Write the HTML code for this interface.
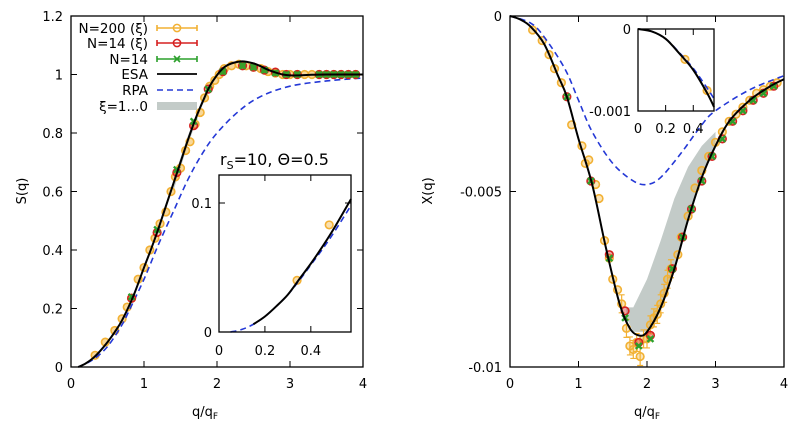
<!DOCTYPE html>
<html><head><meta charset="utf-8"><style>
body{margin:0;background:#fff}
svg{font-family:"DejaVu Sans","Liberation Sans",sans-serif;}
</style></head><body>
<svg id="c" width="810" height="433" viewBox="0 0 810 433"></svg>
<script>
// ---------- Left: S(q) ----------
const sEsaQ=[0.1,0.2,0.3,0.4,0.5,0.6,0.7,0.85,1.0,1.1,1.2,1.3,1.4,1.5,1.6,1.7,1.8,1.9,2.0,2.1,2.2,2.35,2.5,2.6,2.7,2.8,2.9,3.0,3.1,3.3,3.5,4.0];
const sEsaV=[0,0.012,0.03,0.055,0.085,0.12,0.16,0.24,0.34,0.405,0.475,0.55,0.625,0.7,0.775,0.845,0.905,0.96,0.998,1.025,1.038,1.045,1.038,1.028,1.016,1.007,1.0,0.997,0.997,0.999,1.0,1.0];
const sRpaQ=[0.1,0.3,0.5,0.7,0.8,1.0,1.2,1.4,1.6,1.8,2.0,2.3,2.6,3.0,3.5,4.0];
const sRpaV=[0,0.025,0.07,0.145,0.195,0.3,0.42,0.53,0.64,0.73,0.8,0.875,0.925,0.96,0.978,0.988];
const sN200Q=[0.33,0.47,0.6,0.7,0.77,0.83,0.92,1.0,1.08,1.15,1.22,1.3,1.37,1.43,1.5,1.57,1.63,1.7,1.77,1.83,1.9,1.97,2.03,2.1,2.2,2.3,2.4,2.5,2.6,2.7,2.8,2.9,3.0,3.1,3.2,3.3,3.4,3.5,3.6,3.7,3.8,3.9];
const sN200V=[0.04,0.085,0.125,0.165,0.205,0.235,0.3,0.34,0.4,0.44,0.49,0.53,0.6,0.65,0.68,0.74,0.77,0.83,0.87,0.92,0.96,0.98,1.0,1.02,1.03,1.035,1.03,1.025,1.02,1.01,1.005,1.0,1.0,1.0,1.0,1.0,1.0,1.0,1.0,1.0,1.0,1.0];
const sN14Q=[0.83,1.18,1.45,1.68,1.88,2.08,2.35,2.5,2.65,2.8,2.95,3.1,3.4,3.5,3.6,3.7,3.8,3.9];
const sN14xiV=[0.235,0.46,0.665,0.825,0.95,1.01,1.03,1.025,1.015,1.008,1.0,1.0,1.0,1.0,1.0,1.0,1.0,1.0];
const sN14V=[0.24,0.47,0.675,0.84,0.95,1.01,1.03,1.025,1.015,1.005,1.0,1.0,1.0,1.0,1.0,1.0,1.0,1.0];
const sInQ=[0.05,0.1,0.15,0.2,0.25,0.3,0.35,0.4,0.45,0.5,0.575];
const sInV=[0,0.002,0.006,0.012,0.02,0.029,0.041,0.053,0.066,0.08,0.103];
const sInRpaV=[0,0.002,0.006,0.012,0.02,0.029,0.04,0.052,0.064,0.077,0.098];
const sInPtQ=[0.34,0.48];
const sInPtV=[0.04,0.083];
// ---------- Right: X(q) ----------
const xEsaQ=[0,0.15,0.3,0.5,0.7,0.83,1.0,1.2,1.4,1.6,1.75,1.88,2.0,2.2,2.4,2.6,2.8,3.0,3.2,3.5,3.8,4.0];
const xEsaV=[0,-0.0001,-0.0003,-0.0008,-0.0017,-0.0023,-0.0035,-0.0048,-0.0066,-0.0082,-0.0089,-0.0091,-0.009,-0.0083,-0.0072,-0.0058,-0.0046,-0.0037,-0.003,-0.0024,-0.002,-0.0018];
const xRpaQ=[0,0.3,0.5,0.8,1.0,1.2,1.5,1.8,2.0,2.2,2.5,2.8,3.0,3.5,4.0];
const xRpaV=[0,-0.0002,-0.0006,-0.0015,-0.0024,-0.0033,-0.0042,-0.0047,-0.0048,-0.0046,-0.0039,-0.0031,-0.0027,-0.0021,-0.0017];
const xBandQ=[1.7,1.8,2.0,2.2,2.4,2.6,2.8,3.0];
const xBandUp=[-0.0083,-0.0083,-0.0075,-0.0064,-0.0052,-0.0043,-0.0037,-0.0033];
const xBandLo=[-0.0086,-0.009,-0.009,-0.0083,-0.0072,-0.0058,-0.0046,-0.0037];
const xN200Q=[0.33,0.47,0.57,0.65,0.75,0.9,1.05,1.1,1.15,1.25,1.3,1.38,1.45,1.5,1.57,1.63,1.7,1.75,1.8,1.85,1.9,1.95,2.0,2.05,2.1,2.15,2.2,2.25,2.3,2.35,2.45,2.5,2.6,2.7,2.8,2.9,3.0,3.1,3.2,3.3,3.4,3.5,3.6,3.7,3.8,3.9];
const xN200V=[-0.0004,-0.0007,-0.0011,-0.0015,-0.0019,-0.0031,-0.0037,-0.0042,-0.0041,-0.0048,-0.0052,-0.0064,-0.0069,-0.0075,-0.0078,-0.0082,-0.0089,-0.0094,-0.0095,-0.0093,-0.0097,-0.0092,-0.0092,-0.0088,-0.0086,-0.0085,-0.0082,-0.0079,-0.0075,-0.0072,-0.0068,-0.0063,-0.0057,-0.0049,-0.0044,-0.004,-0.0036,-0.0033,-0.003,-0.0028,-0.0026,-0.0024,-0.0022,-0.0021,-0.002,-0.0019];
const xN14Q=[0.83,1.18,1.45,1.68,1.88,2.05,2.37,2.52,2.65,2.8,2.95,3.1,3.25,3.4,3.55,3.7,3.85];
const xN14xiV=[-0.0023,-0.0047,-0.0068,-0.0084,-0.0093,-0.0091,-0.0072,-0.0063,-0.0055,-0.0047,-0.004,-0.0035,-0.003,-0.0027,-0.0024,-0.0022,-0.002];
const xN14V=[-0.0023,-0.0047,-0.0069,-0.0086,-0.0094,-0.0092,-0.0072,-0.0063,-0.0055,-0.0047,-0.004,-0.0035,-0.003,-0.0027,-0.0024,-0.0022,-0.002];
const xInQ=[0,0.1,0.2,0.3,0.4,0.5,0.55];
const xInV=[0,-0.00003,-0.00012,-0.0003,-0.0005,-0.00078,-0.00095];
const xInRpaV=[0,-0.00003,-0.00012,-0.00029,-0.00048,-0.00072,-0.00085];
const xInPtQ=[0.34,0.5];
const xInPtV=[-0.00037,-0.00075];

const svg=document.getElementById('c');
const NS='http://www.w3.org/2000/svg';
function el(t,a,p){const e=document.createElementNS(NS,t);for(const k in a)e.setAttribute(k,a[k]);(p||svg).appendChild(e);return e;}
function txt(x,y,s,anchor,size,name,p){const e=el('text',{x:x,y:y,'text-anchor':anchor,'font-size':size||13,fill:'#000'},p);e.textContent=s;


return e;}
function scale(d0,d1,r0,r1){return v=>r0+(v-d0)/(d1-d0)*(r1-r0);}
function smooth(pts){let d='M'+pts[0][0]+','+pts[0][1];for(let i=0;i<pts.length-1;i++){const p0=pts[i-1]||pts[i],p1=pts[i],p2=pts[i+1],p3=pts[i+2]||p2;
d+=' C'+(p1[0]+(p2[0]-p0[0])/6)+','+(p1[1]+(p2[1]-p0[1])/6)+' '+(p2[0]-(p3[0]-p1[0])/6)+','+(p2[1]-(p3[1]-p1[1])/6)+' '+p2[0]+','+p2[1];}return d;}
function line(g,xs,ys,X,Y,style,name){const p=el('path',Object.assign({d:smooth(xs.map((q,i)=>[X(q),Y(ys[i])])),fill:'none'},style),g);

}
function circles(g,xs,ys,X,Y,stroke,fill,name){xs.forEach((q,i)=>{const c=el('circle',{cx:X(q),cy:Y(ys[i]),r:3.8,stroke:stroke,'stroke-width':1.6,fill:fill},g);

});}
function crosses(g,xs,ys,X,Y,name){xs.forEach((q,i)=>{const x=X(q),y=Y(ys[i]);const c=el('path',{d:`M${x-3},${y-3}L${x+3},${y+3}M${x-3},${y+3}L${x+3},${y-3}`,stroke:'#2ca02c','stroke-width':2.4},g);

});}
const ORANGE='#f2b134',RED='#d62020',GREEN='#2ca02c',BLUE='#2438d6';
function frame(g,x0,y0,x1,y1,name){const r=el('rect',{x:x0,y:y0,width:x1-x0,height:y1-y0,fill:'none',stroke:'#000','stroke-width':1.3},g);

}
function band(g,xs,up,lo,X,Y,name){const pts=xs.map((q,i)=>X(q)+','+Y(up[i])).concat(xs.map((q,i)=>X(q)+','+Y(lo[i])).reverse());
const p=el('polygon',{points:pts.join(' '),fill:'#c3cbc8'},g);

}
const RPASTYLE={stroke:BLUE,'stroke-width':1.6,'stroke-dasharray':'6,4'};
const ESASTYLE={stroke:'#000','stroke-width':2};

// ===== LEFT PANEL =====
const gL=el('g',{});


const LX=scale(0,4,71,363),LY=scale(0,1.2,367,16);
const lxt=[0,1,2,3,4],lyt=[0,0.2,0.4,0.6,0.8,1,1.2],lylab=['0','0.2','0.4','0.6','0.8','1','1.2'];
lxt.forEach(t=>{el('path',{d:`M${LX(t)},367v-6M${LX(t)},16v6`,stroke:'#000'},gL);txt(LX(t),388,String(t),'middle',13,'x-tick-label',gL);});
lyt.forEach((t,i)=>{el('path',{d:`M71,${LY(t)}h6M363,${LY(t)}h-6`,stroke:'#000'},gL);txt(63,LY(t)+5,lylab[i],'end',13,'y-tick-label',gL);});
band(gL,[1.4,1.6,1.8,1.95],[0.64,0.79,0.915,0.975],[0.6,0.76,0.895,0.965],LX,LY,'xi-band');
circles(gL,sN200Q,sN200V,LX,LY,ORANGE,'rgba(242,177,52,0.5)','n200-point');
line(gL,sRpaQ,sRpaV,LX,LY,RPASTYLE,'rpa-line');
circles(gL,sN14Q,sN14xiV,LX,LY,RED,'rgba(214,32,32,0.25)','n14-xi-point');
crosses(gL,sN14Q,sN14V,LX,LY,'n14-point');
sN14Q.forEach((q,i)=>{if(q>1.9){const c=el('rect',{x:LX(q)-3,y:LY(sN14V[i])-3,width:6,height:6,fill:'#3aa02a'},gL);}});
line(gL,sEsaQ,sEsaV,LX,LY,ESASTYLE,'esa-line');
frame(gL,71,16,363,367,'left-plot-frame');
const yl=txt(0,0,'S(q)','middle',13,'y-axis-title',gL);yl.setAttribute('transform','translate(26,191) rotate(-90)');
const xl=el('text',{x:205,y:416,'text-anchor':'middle','font-size':13},gL);xl.innerHTML='q/q<tspan font-size="9" dy="3">F</tspan>';


// legend
const legL=['N=200 (ξ)','N=14 (ξ)','N=14','ESA','RPA','ξ=1...0'],legY=[28,43,59,74,90,106];
const gLeg=el('g',{},gL);


legL.forEach((s,i)=>{txt(148,legY[i]+5,s,'end',13.5,'legend-label',gLeg);});
[[ORANGE,'c'],[RED,'c'],[GREEN,'x']].forEach((o,i)=>{const y=legY[i];el('path',{d:`M157,${y}H197M157,${y-3}v6M197,${y-3}v6`,stroke:o[0],'stroke-width':1.6},gLeg);
if(o[1]=='c')el('circle',{cx:177,cy:y,r:3.6,fill:'none',stroke:o[0],'stroke-width':1.5},gLeg);else el('path',{d:`M174,${y-3}l6,6M174,${y+3}l6,-6`,stroke:o[0],'stroke-width':1.6},gLeg);});
el('path',{d:'M157,74H197',stroke:'#000','stroke-width':1.8},gLeg);
el('path',{d:'M157,90H197',stroke:BLUE,'stroke-width':1.6,'stroke-dasharray':'6,4'},gLeg);
el('rect',{x:157,y:102,width:40,height:8,fill:'#c3cbc8'},gLeg);
const tt=el('text',{x:220,y:165,'font-size':16},gL);tt.innerHTML='r<tspan font-size="11" dy="4">S</tspan><tspan dy="-4">=10, Θ=0.5</tspan>';


// left inset
const gLI=el('g',{},gL);


el('rect',{x:219,y:175,width:132,height:157,fill:'#fff'},gLI);
const IX=scale(0,0.575,219,351),IY=scale(0,0.1217,332,175);
[0,0.2,0.4].forEach((t,i)=>{el('path',{d:`M${IX(t)},332v-6M${IX(t)},175v6`,stroke:'#000'},gLI);txt(IX(t),355,['0','0.2','0.4'][i],'middle',13,'inset-x-tick-label',gLI);});
[0,0.1].forEach((t,i)=>{el('path',{d:`M219,${IY(t)}h6M351,${IY(t)}h-6`,stroke:'#000'},gLI);txt(212,IY(t)+5,['0','0.1'][i],'end',13,'inset-y-tick-label',gLI);});
circles(gLI,sInPtQ,sInPtV,IX,IY,ORANGE,'rgba(242,177,52,0.4)','inset-n200-point');
line(gLI,sInQ,sInRpaV,IX,IY,RPASTYLE,'inset-rpa-line');
line(gLI,sInQ.slice(2),sInV.slice(2),IX,IY,ESASTYLE,'inset-esa-line');
frame(gLI,219,175,351,332,'left-inset-frame');

// ===== RIGHT PANEL =====
const gR=el('g',{});


const RX=scale(0,4,510,784),RY=scale(0,-0.01,16,367);
const rxt=[0,1,2,3,4],ryt=[0,-0.005,-0.01],rylab=['0','-0.005','-0.01'];
rxt.forEach(t=>{el('path',{d:`M${RX(t)},367v-6M${RX(t)},16v6`,stroke:'#000'},gR);txt(RX(t),388,String(t),'middle',13,'x-tick-label',gR);});
ryt.forEach((t,i)=>{el('path',{d:`M510,${RY(t)}h6M784,${RY(t)}h-6`,stroke:'#000'},gR);txt(502,RY(t)+5,rylab[i],'end',13,'y-tick-label',gR);});
band(gR,xBandQ,xBandUp,xBandLo,RX,RY,'xi-band');
circles(gR,xN200Q,xN200V,RX,RY,ORANGE,'rgba(242,177,52,0.35)','n200-point');
xN200Q.forEach((q,i)=>{if(q>1.6&&q<2.4){const x=RX(q),y=RY(xN200V[i]);el('path',{d:`M${x},${y-9}v18M${x-3},${y-9}h6M${x-3},${y+9}h6`,stroke:ORANGE,'stroke-width':1.2},gR);}});
line(gR,xRpaQ,xRpaV,RX,RY,RPASTYLE,'rpa-line');
circles(gR,xN14Q,xN14xiV,RX,RY,RED,'rgba(214,32,32,0.4)','n14-xi-point');
crosses(gR,xN14Q,xN14V,RX,RY,'n14-point');
line(gR,xEsaQ,xEsaV,RX,RY,ESASTYLE,'esa-line');
frame(gR,510,16,784,367,'right-plot-frame');
const yr=txt(0,0,'X(q)','middle',13,'y-axis-title',gR);yr.setAttribute('transform','translate(432,191) rotate(-90)');
const xr=el('text',{x:647,y:416,'text-anchor':'middle','font-size':13},gR);xr.innerHTML='q/q<tspan font-size="9" dy="3">F</tspan>';


// right inset
const gRI=el('g',{},gR);


el('rect',{x:638,y:29,width:76,height:82,fill:'#fff'},gRI);
const JX=scale(0,0.55,638,714),JY=scale(0,-0.001,29,111);
[0,0.2,0.4].forEach((t,i)=>{el('path',{d:`M${JX(t)},111v-6M${JX(t)},29v6`,stroke:'#000'},gRI);txt(JX(t),133,['0','0.2','0.4'][i],'middle',13,'inset-x-tick-label',gRI);});
[0,-0.001].forEach((t,i)=>{txt(631,JY(t)+5,['0','-0.001'][i],'end',13,'inset-y-tick-label',gRI);});
circles(gRI,xInPtQ,xInPtV,JX,JY,ORANGE,'rgba(242,177,52,0.4)','inset-n200-point');
line(gRI,xInQ,xInRpaV,JX,JY,RPASTYLE,'inset-rpa-line');
line(gRI,xInQ,xInV,JX,JY,ESASTYLE,'inset-esa-line');
frame(gRI,638,29,714,111,'right-inset-frame');
</script>
</body></html>
